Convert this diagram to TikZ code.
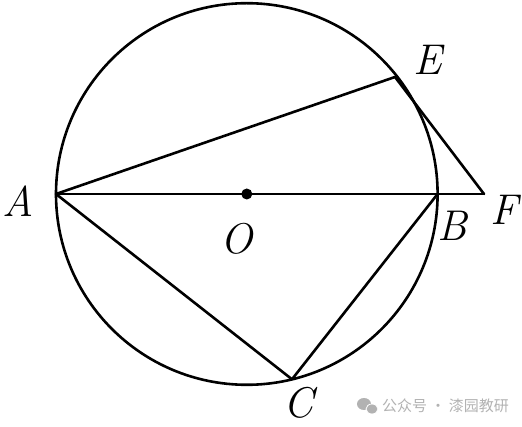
\documentclass[tikz,border=0pt]{standalone}
\usepackage{fontspec}
\newfontfamily\cjk{Noto Sans CJK SC}
\tikzset{
  seg/.style={line width=2.6pt, line join=round, line cap=round},
  lab/.style={font=\fontsize{43}{43}\selectfont\itshape, inner sep=0pt},
  wm/.style={text=black!30, font=\cjk\fontsize{15}{15}\selectfont, inner sep=0pt, anchor=west}
}
\begin{document}
\begin{tikzpicture}[x=1pt, y=-1pt]
\useasboundingbox (0,0) rectangle (522,427);
\coordinate (O) at (246.8,194);
\coordinate (A) at (56,194);
\coordinate (B) at (437.6,194);
\coordinate (E) at (395,77);
\coordinate (F) at (484,194);
\coordinate (C) at (292,379.3);
\draw[seg] (O) circle[radius=190.8pt];
\draw[seg] (A) -- (F);
\draw[seg] (A) -- (E) -- (F);
\draw[seg] (A) -- (C) -- (B);
\fill (O) circle[radius=5.5pt];
\node[lab] (lA) at (18,201) {A};
\node[lab] (lE) at (428,60) {E};
\node[lab] (lO) at (237,239) {O};
\node[lab] (lB) at (452,226) {B};
\node[lab] (lF) at (504,210) {F};
\node[lab] (lC) at (299,403) {C};
% watermark
\fill[black!30] (364,404) ellipse[x radius=7pt, y radius=6pt];
\fill[black!30] (372,409) ellipse[x radius=6pt, y radius=5pt];
\draw[white, line width=0.8pt] (372,409) ellipse[x radius=6pt, y radius=5pt];
\node[wm] (wm) at (382,406) {公众号 · 漆园教研};
\end{tikzpicture}
\end{document}
